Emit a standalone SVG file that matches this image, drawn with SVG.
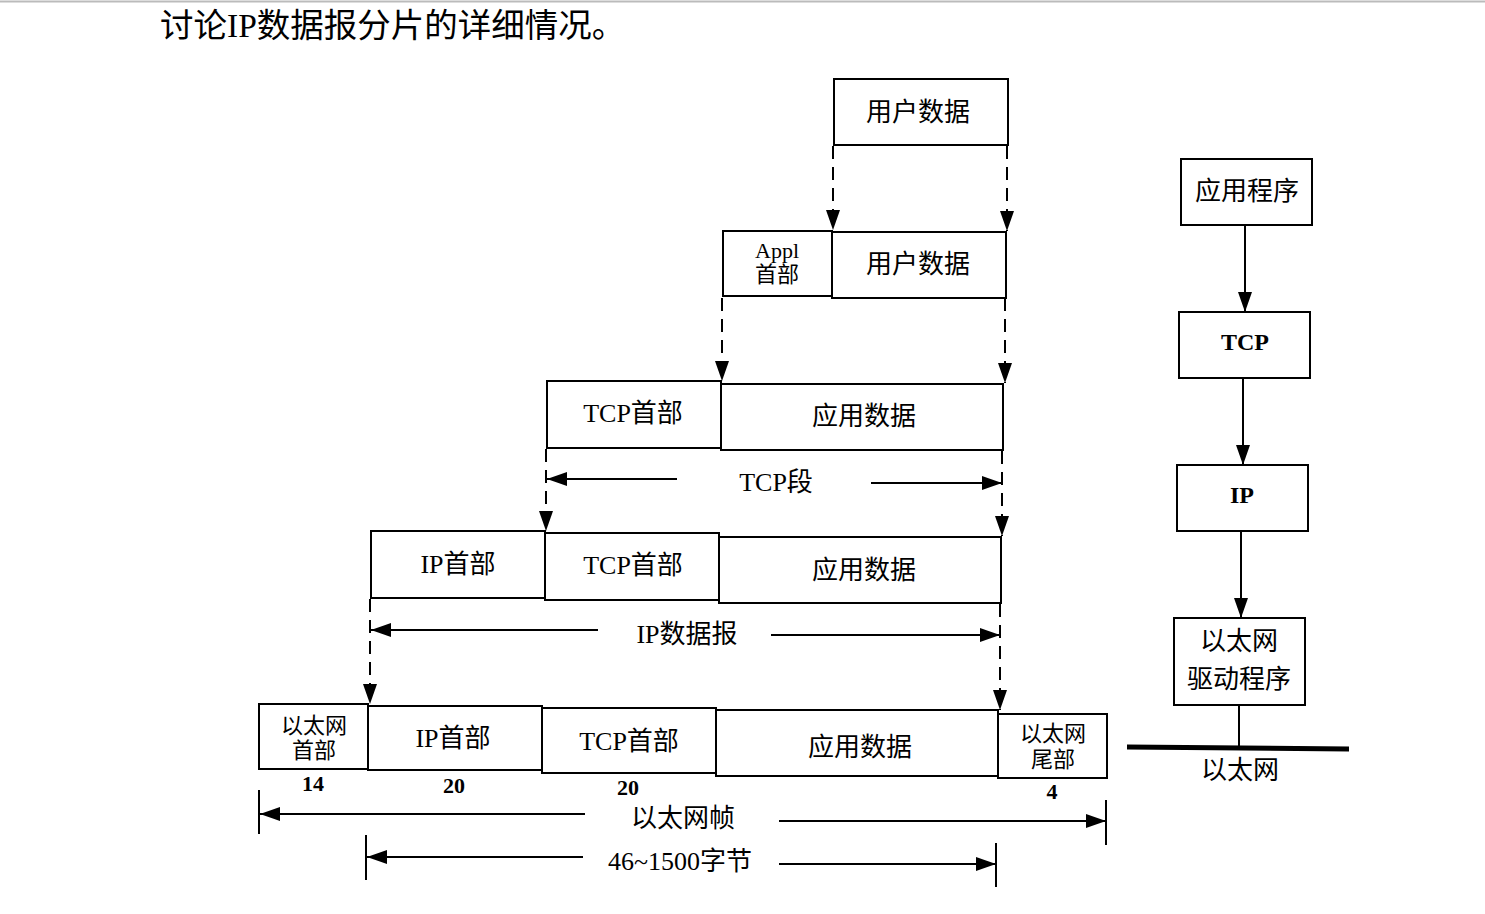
<svg xmlns="http://www.w3.org/2000/svg" width="1485" height="914" viewBox="0 0 1485 914">
<style>
.b{fill:#fff;stroke:#000;stroke-width:2}
.t{font-family:"Liberation Serif","Noto Sans CJK SC",serif;font-size:26px;fill:#000;text-anchor:middle}
.s{font-size:22px}
.n{font-family:"Liberation Serif",serif;font-weight:bold;font-size:22px;text-anchor:middle}
.bd{font-weight:bold;font-size:24px}
.d{stroke:#000;stroke-width:2;stroke-dasharray:13 8;fill:none}
.l{stroke:#000;stroke-width:2;fill:none}
</style>
<defs>
<marker id="a" markerUnits="userSpaceOnUse" markerWidth="22" markerHeight="14" refX="20" refY="7" orient="auto"><path d="M0,0 L20,7 L0,14 Z" fill="#000"/></marker>
</defs>
<rect width="1485" height="914" fill="#fff"/>
<line x1="0" y1="1.5" x2="1485" y2="1.5" stroke="#bbb" stroke-width="2"/>
<text x="160" y="37" style="font-family:'Liberation Serif','Noto Sans CJK SC',serif;font-size:33.5px">讨论IP数据报分片的详细情况。</text>

<g id="connectors">
<path class="d" d="M833,146 V230" marker-end="url(#a)"/>
<path class="d" d="M1007,146 V231" marker-end="url(#a)"/>
<path class="d" d="M722,298 V381" marker-end="url(#a)"/>
<path class="d" d="M1005,298 V383" marker-end="url(#a)"/>
<path class="d" d="M546,449 V531" marker-end="url(#a)"/>
<path class="d" d="M1002,451 V536" marker-end="url(#a)"/>
<path class="d" d="M370,599 V704" marker-end="url(#a)"/>
<path class="d" d="M1000,604 V710" marker-end="url(#a)"/>
<path class="l" d="M677,479 H547" marker-end="url(#a)"/>
<path class="l" d="M871,483 H1002" marker-end="url(#a)"/>
<path class="l" d="M598,630 H371" marker-end="url(#a)"/>
<path class="l" d="M771,635 H1000" marker-end="url(#a)"/>
<path class="l" d="M585,814 H260" marker-end="url(#a)"/>
<path class="l" d="M779,821 H1106" marker-end="url(#a)"/>
<path class="l" d="M583,857 H367" marker-end="url(#a)"/>
<path class="l" d="M779,864 H996" marker-end="url(#a)"/>
<path class="l" d="M259,790 V834 M1106,800 V845 M366,835 V880 M996,843 V887"/>
<path class="l" d="M1245,226 V312" marker-end="url(#a)"/>
<path class="l" d="M1243,379 V465" marker-end="url(#a)"/>
<path class="l" d="M1241,532 V618" marker-end="url(#a)"/>
<path class="l" d="M1239,705 V747"/>
<line x1="1127" y1="747" x2="1349" y2="749" stroke="#000" stroke-width="5"/>
</g>

<g id="user-data"><rect class="b" x="834" y="79" width="174" height="66"/><text class="t" x="918" y="121">用户数据</text></g>

<g id="appl-header"><rect class="b" x="723" y="231" width="109" height="65"/><text class="t s" x="777" y="258">Appl</text><text class="t s" x="777" y="282">首部</text></g>
<g id="user-data-2"><rect class="b" x="832" y="232" width="174" height="66"/><text class="t" x="918" y="273">用户数据</text></g>

<g id="tcp-header-1"><rect class="b" x="547" y="381" width="174" height="67"/><text class="t" x="633" y="422">TCP首部</text></g>
<g id="app-data-1"><rect class="b" x="721" y="384" width="282" height="66"/><text class="t" x="864" y="425">应用数据</text></g>
<g id="tcp-seg-label"><text class="t" x="776" y="491">TCP段</text></g>

<g id="ip-header-1"><rect class="b" x="371" y="531" width="174" height="67"/><text class="t" x="458" y="573">IP首部</text></g>
<g id="tcp-header-2"><rect class="b" x="545" y="533" width="174" height="67"/><text class="t" x="633" y="574">TCP首部</text></g>
<g id="app-data-2"><rect class="b" x="719" y="537" width="282" height="66"/><text class="t" x="864" y="579">应用数据</text></g>
<g id="ip-dgram-label"><text class="t" x="687" y="643">IP数据报</text></g>

<g id="eth-header"><rect class="b" x="259" y="704" width="109" height="65"/><text class="t s" x="314" y="733">以太网</text><text class="t s" x="314" y="758">首部</text><text class="n" x="313" y="791">14</text></g>
<g id="ip-header-2"><rect class="b" x="368" y="706" width="174" height="64"/><text class="t" x="453" y="747">IP首部</text><text class="n" x="454" y="793">20</text></g>
<g id="tcp-header-3"><rect class="b" x="542" y="708" width="174" height="65"/><text class="t" x="629" y="750">TCP首部</text><text class="n" x="628" y="795">20</text></g>
<g id="app-data-3"><rect class="b" x="716" y="710" width="282" height="66"/><text class="t" x="860" y="756">应用数据</text></g>
<g id="eth-trailer"><rect class="b" x="998" y="714" width="109" height="64"/><text class="t s" x="1053" y="741">以太网</text><text class="t s" x="1053" y="767">尾部</text><text class="n" x="1052" y="799">4</text></g>
<g id="eth-frame-label"><text class="t" x="683" y="827">以太网帧</text></g>
<g id="payload-label"><text class="t" x="680" y="870">46~1500字节</text></g>

<g id="app"><rect class="b" x="1181" y="159" width="131" height="66"/><text class="t" x="1247" y="200">应用程序</text></g>
<g id="tcp"><rect class="b" x="1179" y="312" width="131" height="66"/><text class="t bd" x="1245" y="350">TCP</text></g>
<g id="ip"><rect class="b" x="1177" y="465" width="131" height="66"/><text class="t bd" x="1242" y="503">IP</text></g>
<g id="eth-driver"><rect class="b" x="1174" y="618" width="131" height="87"/><text class="t" x="1239" y="650">以太网</text><text class="t" x="1239" y="688">驱动程序</text></g>
<g id="ethernet"><text class="t" x="1240" y="779">以太网</text></g>
</svg>
